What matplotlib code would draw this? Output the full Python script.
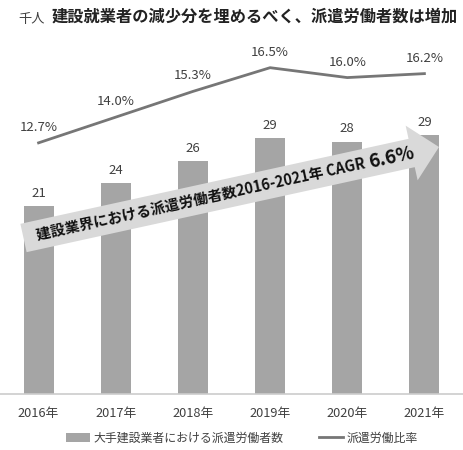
import matplotlib
matplotlib.use("Agg")
import matplotlib.pyplot as plt
import numpy as np
from matplotlib.patches import Polygon
from matplotlib.transforms import IdentityTransform
from matplotlib.lines import Line2D
from matplotlib.patches import Patch

plt.rcParams['font.family'] = ['Noto Sans CJK JP', 'DejaVu Sans']

years = ["2016年", "2017年", "2018年", "2019年", "2020年", "2021年"]
workers = [21.0, 23.6, 26.0, 28.6, 28.2, 28.9]
ratio = [12.7, 14.0, 15.3, 16.5, 16.0, 16.2]

W, H = 463, 450
fig = plt.figure(figsize=(W / 100, H / 100), dpi=100)
ax = fig.add_axes([0, (H - 394) / H, 1, (394 - 40) / H])
ax2 = ax.twinx()

text_c = "#404040"
x = np.arange(len(years))
ax.bar(x, workers, width=0.39, color="#a5a5a5", zorder=2)
ax.set_xlim(-0.5, len(years) - 0.5)
ax.set_ylim(0, 39.55)
for xi, v in zip(x, workers):
    ax.annotate(f"{v:.0f}", (xi, v), xytext=(0, 4.5), textcoords="offset points",
                ha="center", va="bottom", fontsize=9.5, color=text_c)

ax2.plot(x, ratio, color="#767676", lw=2.0, zorder=3)
ax2.set_ylim(0, 17.9)
for xi, v in zip(x, ratio):
    ax2.annotate(f"{v:.1f}%", (xi, v), xytext=(0, 6.5), textcoords="offset points",
                 ha="center", va="bottom", fontsize=9.5, color=text_c)

for a in (ax, ax2):
    for s in ("top", "left", "right"):
        a.spines[s].set_visible(False)
    a.set_yticks([])
ax2.spines["bottom"].set_visible(False)
ax.spines["bottom"].set_color("#cccccc")
ax.spines["bottom"].set_linewidth(1.2)
ax.set_xticks(x)
ax.set_xticklabels(years, fontsize=9.2, color=text_c)
ax.tick_params(axis="x", length=0, pad=9)

def P(px, py):
    return (px, H - py)

start = np.array([23.5, 238.0])
tip = np.array([439.0, 147.0])
d = tip - start
L = np.hypot(*d)
u = d / L
n = np.array([u[1], -u[0]])
body_half = 14.5
head_half = 28.0
head_len = 28.0
base = tip - u * head_len
pts = [start - n * body_half, base - n * body_half, base - n * head_half, tip,
       base + n * head_half, base + n * body_half, start + n * body_half]
pts = [P(*p) for p in pts]
arrow = Polygon(pts, closed=True, facecolor="#d9d9d9", edgecolor="none",
                transform=IdentityTransform(), zorder=5)
fig.add_artist(arrow)

angle = np.degrees(np.arctan2(-d[1], d[0]))
main_txt = "建設業界における派遣労働者数2016-2021年 CAGR "
t0 = np.array([38.0, 241.0])
fig.text(t0[0] / W, 1 - t0[1] / H, main_txt, fontsize=10.5, fontweight="bold",
         color="#111111", rotation=angle, rotation_mode="anchor",
         ha="left", va="baseline", zorder=6)
tmp = fig.text(0, 0, main_txt, fontsize=10.5, fontweight="bold")
fig.canvas.draw()
wpx = tmp.get_window_extent().width
tmp.remove()
p2 = t0 + u * wpx
fig.text(p2[0] / W, 1 - p2[1] / H, "6.6%", fontsize=13.5, fontweight="bold",
         color="#111111", rotation=angle, rotation_mode="anchor",
         ha="left", va="baseline", zorder=6)

fig.text(18 / W, 1 - 19 / H, "千人", fontsize=9.5, color=text_c, ha="left", va="center")
fig.text(52 / W, 1 - 17 / H, "建設就業者の減少分を埋めるべく、派遣労働者数は増加",
         fontsize=11.7, fontweight="bold", color="#222222", ha="left", va="center")

handles = [Patch(facecolor="#a5a5a5", edgecolor="none"),
           Line2D([], [], color="#767676", lw=2.0)]
fig.legend(handles, ["大手建設業者における派遣労働者数", "派遣労働比率"],
           loc="center", bbox_to_anchor=(242 / W, 1 - 438 / H), ncol=2,
           frameon=False, fontsize=8.6, handlelength=2.0, handletextpad=0.3,
           columnspacing=3.0, labelcolor=text_c)

fig.savefig("out.png", dpi=100)
